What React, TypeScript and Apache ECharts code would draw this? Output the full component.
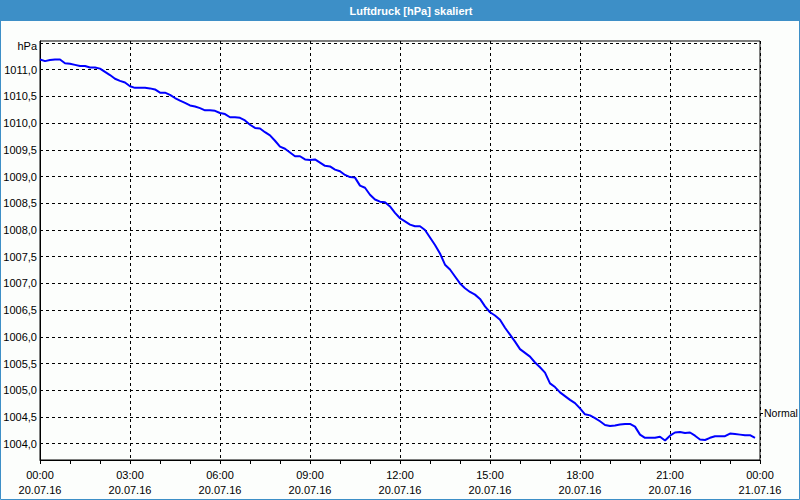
import React, { useEffect, useRef } from 'react';
import * as echarts from 'echarts';

// Air pressure (hPa), one reading every 10 minutes from 20.07.16 00:00
const pressure: number[] = [
  1011.19, 1011.16, 1011.18, 1011.19, 1011.19, 1011.12, 1011.11, 1011.09, 1011.07, 1011.07, 1011.04, 1011.04,
  1011.02, 1010.96, 1010.90, 1010.83, 1010.79, 1010.76, 1010.69, 1010.66, 1010.66, 1010.66, 1010.65, 1010.63,
  1010.57, 1010.57, 1010.53, 1010.47, 1010.42, 1010.38, 1010.33, 1010.31, 1010.28, 1010.24, 1010.24, 1010.23,
  1010.19, 1010.17, 1010.11, 1010.11, 1010.10, 1010.05, 1009.97, 1009.91, 1009.90, 1009.83, 1009.77, 1009.67,
  1009.56, 1009.52, 1009.45, 1009.38, 1009.38, 1009.32, 1009.31, 1009.32, 1009.26, 1009.20, 1009.19, 1009.13,
  1009.10, 1009.03, 1008.99, 1008.98, 1008.83, 1008.79, 1008.66, 1008.57, 1008.53, 1008.52, 1008.44, 1008.32,
  1008.22, 1008.16, 1008.10, 1008.07, 1008.07, 1008.00, 1007.86, 1007.72, 1007.56, 1007.35, 1007.26, 1007.13,
  1007.00, 1006.91, 1006.84, 1006.79, 1006.71, 1006.57, 1006.46, 1006.40, 1006.32, 1006.17, 1006.04, 1005.91,
  1005.77, 1005.70, 1005.63, 1005.52, 1005.43, 1005.33, 1005.13, 1005.06, 1004.96, 1004.89, 1004.82, 1004.76,
  1004.66, 1004.55, 1004.53, 1004.48, 1004.42, 1004.35, 1004.33, 1004.34, 1004.36, 1004.37, 1004.37, 1004.32,
  1004.17, 1004.11, 1004.11, 1004.11, 1004.13, 1004.06, 1004.15, 1004.21, 1004.22, 1004.20, 1004.21, 1004.15,
  1004.08, 1004.07, 1004.11, 1004.14, 1004.14, 1004.14, 1004.19, 1004.18, 1004.17, 1004.16, 1004.16, 1004.11,
];
const STEP_HOURS = 1 / 6;

const yTicks: number[] = [1004.0, 1004.5, 1005.0, 1005.5, 1006.0, 1006.5, 1007.0, 1007.5, 1008.0, 1008.5, 1009.0, 1009.5, 1010.0, 1010.5, 1011.0, 1011.5];
const yUnitLabel = 'hPa';
const yMin = 1003.695;
const yMax = 1011.537;

const xTicks: number[] = [0, 3, 6, 9, 12, 15, 18, 21, 24];
const xTimeLabels: string[] = ['00:00', '03:00', '06:00', '09:00', '12:00', '15:00', '18:00', '21:00', '00:00'];
const xDateLabels: string[] = ['20.07.16', '20.07.16', '20.07.16', '20.07.16', '20.07.16', '20.07.16', '20.07.16', '20.07.16', '21.07.16'];

const normalValue = 1004.57;
const normalLabel = 'Normal';
const titleText = 'Luftdruck [hPa] skaliert';

const FONT = 'Liberation Sans, Arial, sans-serif';
const BLUE_FRAME = '#3d8fc7';

export default function App() {
  const ref = useRef<HTMLDivElement>(null);

  useEffect(() => {
    if (!ref.current) return;
    const chart = echarts.init(ref.current, undefined, { renderer: 'svg' });
    const option: any = {
      animation: false,
      backgroundColor: '#fcfefc',
      textStyle: { fontFamily: FONT, fontSize: 11, color: '#000' },
      graphic: [
        { type: 'rect', shape: { x: 0, y: 0, width: 800, height: 21 }, style: { fill: BLUE_FRAME }, z: 10 },
        {
          type: 'text', x: 411, y: 11, z: 11,
          style: { text: titleText, fill: '#fff', font: 'bold 11px ' + FONT, textAlign: 'center', textVerticalAlign: 'middle' },
        },
        { type: 'rect', shape: { x: 0.5, y: 0.5, width: 799, height: 499 }, style: { fill: 'none', stroke: BLUE_FRAME, lineWidth: 1 }, z: 10 },
      ],
      grid: {
        left: 40, right: 40, top: 41, bottom: 40,
        show: true, borderColor: '#000', borderWidth: 1, backgroundColor: 'transparent',
        containLabel: false, outerBoundsMode: 'none',
      },
      xAxis: {
        type: 'value', min: 0, max: 24, interval: 3,
        axisLine: { show: true, lineStyle: { color: '#000', width: 1 } },
        axisTick: { show: true, length: 4, lineStyle: { color: '#000' } },
        minorTick: { show: true, splitNumber: 3, length: 4, lineStyle: { color: '#000' } },
        splitLine: { show: true, lineStyle: { color: '#000', type: [3, 3], width: 1 } },
        axisLabel: {
          color: '#000', fontFamily: FONT, fontSize: 11, lineHeight: 15, margin: 7,
          showMinLabel: true, showMaxLabel: true, hideOverlap: false,
          formatter: (v: number) => {
            const i = xTicks.indexOf(v);
            return i >= 0 ? xTimeLabels[i] + '\n' + xDateLabels[i] : '';
          },
        },
      },
      yAxis: [
        {
          type: 'value', min: yMin, max: yMax, position: 'left',
          axisLine: { show: true, lineStyle: { color: '#000', width: 1 } },
          axisTick: { show: false, customValues: yTicks },
          splitLine: { show: true, lineStyle: { color: '#000', type: [3, 3], width: 1 } },
          axisLabel: {
            customValues: yTicks, color: '#000', fontFamily: FONT, fontSize: 11, margin: 3,
            formatter: (v: number) => (Math.abs(v - yTicks[yTicks.length - 1]) < 1e-6 ? '{u|' + yUnitLabel + '}' : v.toFixed(1).replace('.', ',')),
            rich: { u: { fontFamily: FONT, fontSize: 11, color: '#000', padding: [6, 0, 0, 0] } },
          },
        },
        {
          type: 'value', min: yMin, max: yMax, position: 'right',
          axisLine: { show: false },
          axisTick: { show: true, customValues: [normalValue], length: 3, lineStyle: { color: '#000' } },
          splitLine: { show: false },
          axisLabel: { customValues: [normalValue], color: '#000', fontFamily: FONT, fontSize: 10.5, margin: 4, formatter: () => normalLabel },
        },
      ],
      series: [
        {
          type: 'line', yAxisIndex: 0, xAxisIndex: 0,
          data: pressure.map((v, i) => [i * STEP_HOURS, v]),
          symbol: 'none', showSymbol: false,
          lineStyle: { color: '#0000ff', width: 2 },
          z: 5,
        },
      ],
    };
    chart.setOption(option);
    return () => chart.dispose();
  }, []);

  return <div ref={ref} style={{ position: 'absolute', left: 0, top: 0, width: 800, height: 500 }} />;
}
